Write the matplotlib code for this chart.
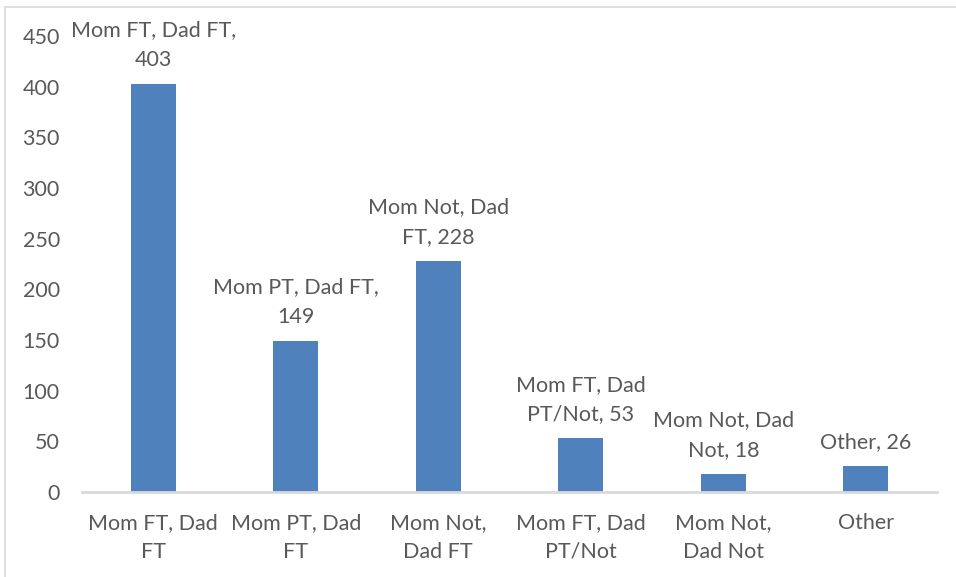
import matplotlib
matplotlib.use("Agg")
import matplotlib.pyplot as plt
from matplotlib.patches import Rectangle

categories = ["Mom FT, Dad\nFT", "Mom PT, Dad\nFT", "Mom Not,\nDad FT",
              "Mom FT, Dad\nPT/Not", "Mom Not,\nDad Not", "Other"]
values = [403, 149, 228, 53, 18, 26]
bar_labels = ["Mom FT, Dad FT,\n403", "Mom PT, Dad FT,\n149", "Mom Not, Dad\nFT, 228",
              "Mom FT, Dad\nPT/Not, 53", "Mom Not, Dad\nNot, 18", "Other, 26"]

plt.rcParams['font.family'] = ['Lato', 'DejaVu Sans']
txt = '#595959'
fs = 15.5

fig = plt.figure(figsize=(9.56, 5.77), dpi=100)
# chart frame (partially cropped)
fig.patches.append(Rectangle((5 / 956, -0.1), 1.1, 1.1 - 7 / 577, transform=fig.transFigure,
                             fill=False, edgecolor='#d9d9d9', linewidth=1.2))
ax = fig.add_axes([82 / 956, 85 / 577, 855 / 956, 456 / 577])

x = range(len(values))
ax.bar(x, values, width=0.316, color='#4f81bd', zorder=2)
for i, v in enumerate(values):
    ax.annotate(bar_labels[i], (i, v), xytext=(0, 10), textcoords='offset points',
                ha='center', va='bottom', fontsize=fs, color=txt, linespacing=1.6)

ax.set_xlim(-0.5, 5.5)
ax.set_ylim(0, 450)
ax.set_yticks(range(0, 451, 50))
ax.set_xticks(list(x))
ax.set_xticklabels(categories, linespacing=1.55)
ax.tick_params(axis='both', length=0, labelsize=fs, labelcolor=txt)
ax.tick_params(axis='y', pad=16)
ax.tick_params(axis='x', pad=15)
for s in ['top', 'right', 'left']:
    ax.spines[s].set_visible(False)
ax.spines['bottom'].set_color('#d9d9d9')
ax.spines['bottom'].set_linewidth(2)

fig.savefig('out.png', dpi=100)
